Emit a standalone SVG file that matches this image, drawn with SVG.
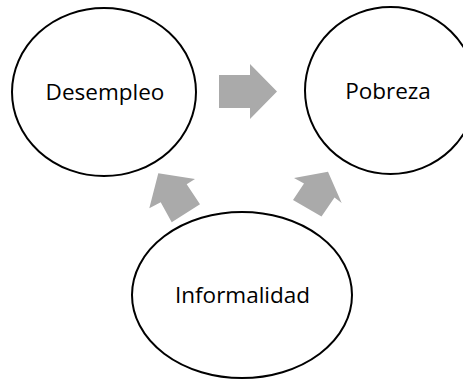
<svg xmlns="http://www.w3.org/2000/svg" width="463" height="379" viewBox="0 0 463 379">
<style>
.node ellipse{fill:#fff;stroke:#000;stroke-width:2}
.node text{font-family:"Open Sans","Liberation Sans",sans-serif;font-size:22.5px;fill:#000;text-anchor:middle}
.arrow{fill:#aaaaaa;stroke:none}
</style>
<rect width="463" height="379" fill="#fff"/>
<g id="connectors">
<polygon class="arrow" points="219,75 250,75 250,64 277,91.5 250,119 250,108 219,108"/>
<polygon class="arrow" points="158.3,173.3 195,179 186.7,184.3 200,204.3 171.7,222.3 160.7,202.3 149.3,208.3"/>
<polygon class="arrow" points="328,171.7 341.7,203 334.5,197.5 321.5,216.5 293,200 304,183.5 294,178"/>
</g>
<g id="desempleo" class="node">
<ellipse cx="104" cy="92" rx="92" ry="84"/>
<text x="105" y="100">Desempleo</text>
</g>
<g id="pobreza" class="node">
<ellipse cx="390.5" cy="90.5" rx="85.5" ry="83.5"/>
<text x="388" y="99">Pobreza</text>
</g>
<g id="informalidad" class="node">
<ellipse cx="242" cy="295" rx="110" ry="83"/>
<text x="242.5" y="303">Informalidad</text>
</g>
</svg>
